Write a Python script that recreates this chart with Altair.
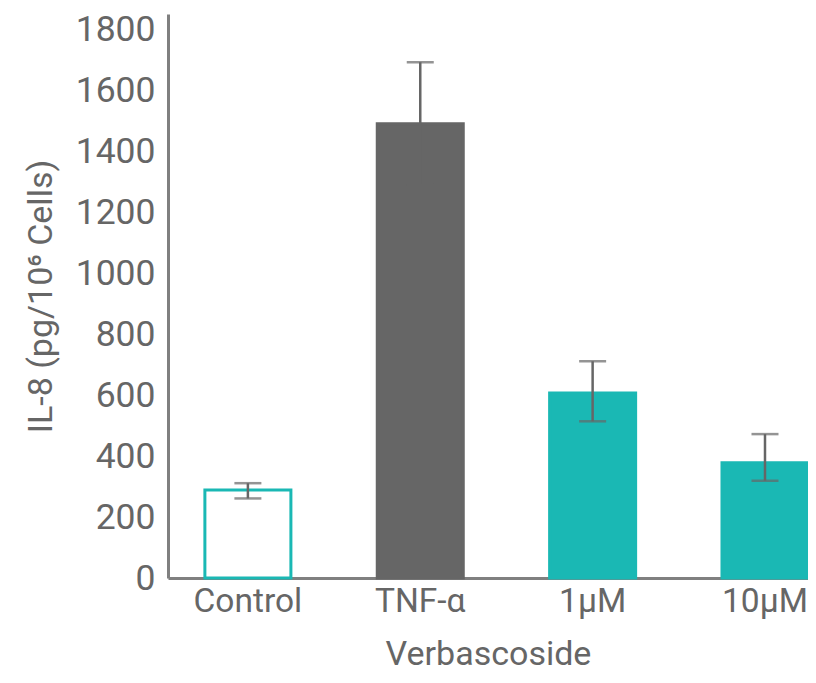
import altair as alt
import pandas as pd

categories = ["Control", "TNF-α", "1μM", "10μM"]
values = [289, 1490, 607, 378]
err_low = [261, 1290, 514, 319]
err_high = [311, 1692, 711, 472]

df = pd.DataFrame({"cat": categories, "val": values, "lo": err_low, "hi": err_high})

TEAL = "#1ab8b4"
GRAY = "#666666"
TXT = "#666666"
FONT = "Roboto"

x = alt.X("cat:N", sort=categories,
          scale=alt.Scale(paddingInner=0.501, paddingOuter=0.107, align=1),
          axis=alt.Axis(title="Verbascoside", labelAngle=0, ticks=False,
                        labelPadding=7, titlePadding=20, labelFontSize=33.5,
                        titleFontSize=34,
                        domainColor="#808080", domainWidth=3))

bars = alt.Chart(df).mark_bar(strokeWidth=3).encode(
    x=x,
    y=alt.Y("val:Q", scale=alt.Scale(domain=[0, 1850], nice=False),
            axis=alt.Axis(title="IL-8 (pg/10⁶ Cells)", values=list(range(0, 1801, 200)),
                          format="d", ticks=False, grid=False, labelPadding=13,
                          titlePadding=17, labelFontSize=35.5, titleFontSize=34,
                          domainColor="#808080", domainWidth=3)),
    fill=alt.Fill("cat:N", scale=alt.Scale(domain=categories, range=["#ffffff", GRAY, TEAL, TEAL]), legend=None),
    stroke=alt.Stroke("cat:N", scale=alt.Scale(domain=categories, range=[TEAL, GRAY, TEAL, TEAL]), legend=None),
)

rules = alt.Chart(df).mark_rule(color=GRAY, strokeWidth=2.5).encode(
    x=alt.X("cat:N", sort=categories), y="lo:Q", y2="hi:Q")
cap_lo = alt.Chart(df).mark_tick(color=GRAY, size=27, thickness=2.5).encode(
    x=alt.X("cat:N", sort=categories), y="lo:Q")
cap_hi = alt.Chart(df).mark_tick(color=GRAY, size=27, thickness=2.5).encode(
    x=alt.X("cat:N", sort=categories), y="hi:Q")

chart = alt.layer(bars, rules, cap_lo, cap_hi).properties(
    width=640, height=564,
    autosize=alt.AutoSizeParams(type="none"),
    padding={"left": 160, "top": 6, "right": 0, "bottom": 97},
).configure_view(stroke=None).configure_axis(
    labelFont=FONT, titleFont=FONT, labelColor=TXT, titleColor=TXT,
    titleFontWeight="normal",
)

chart.save("out.html", embed_options={"renderer": "svg", "actions": False})
